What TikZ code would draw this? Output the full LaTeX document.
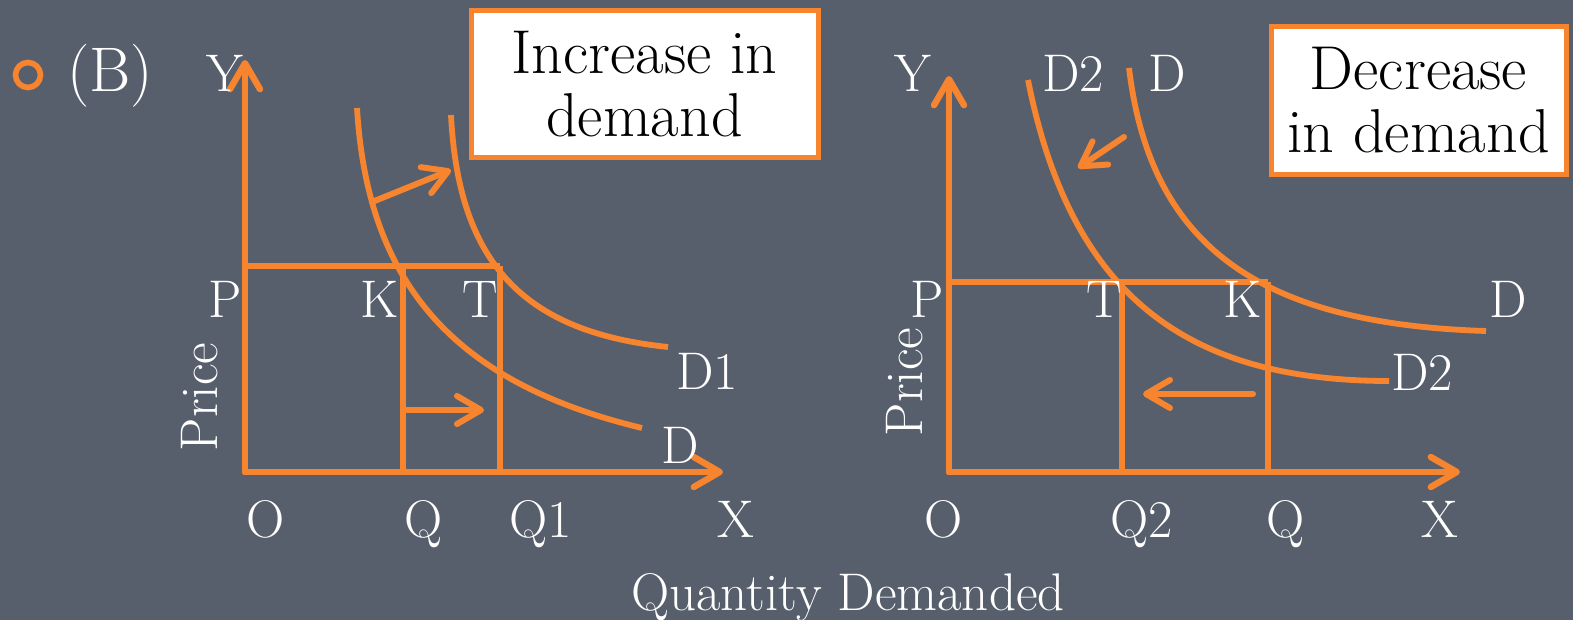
\documentclass[tikz,border=0pt]{standalone}
\usetikzlibrary{arrows.meta}
\definecolor{bg}{RGB}{88,95,108}
\definecolor{org}{RGB}{247,132,47}
\tikzset{
  lbl/.style={text=white,font=\fontsize{26.5}{30}\selectfont,anchor=base,inner sep=0pt},
  axisline/.style={draw=org,line width=3.2pt,line cap=round,-{Straight Barb[length=13pt,width=15pt,round]}},
  moveline/.style={draw=org,line width=3pt,line cap=round,-{Straight Barb[length=12pt,width=14pt,round]}},
  guide/.style={draw=org,line width=3.2pt},
  curve/.style={draw=org,line width=2.9pt},
  titlebox/.style={draw=org,line width=2.5pt,fill=white,inner sep=0pt,align=center,
    font=\fontsize{31}{31.5}\selectfont,text=black}
}
\begin{document}
\begin{tikzpicture}[x=0.5pt,y=-0.5pt]
\useasboundingbox (0,0) rectangle (1573,620);
\fill[bg] (0,0) rectangle (1573,620);

% bullet and (B)
\node[circle,draw=org,line width=2.8pt,minimum size=12.5pt,inner sep=0pt] (bullet) at (28,75) {};
\node[lbl,font=\fontsize{31.5}{34}\selectfont] (B) at (110,92) {(B)};

% ---------- left chart ----------
\coordinate (O1) at (245,472);
\coordinate (Y1) at (245,60);
\coordinate (X1) at (723,472);
\coordinate (P1) at (245,266);
\coordinate (K1) at (403,266);
\coordinate (T1) at (500,266);
\coordinate (Q1b) at (403,472);
\coordinate (Q1c) at (500,472);
\draw[axisline] (O1) -- (Y1);
\draw[axisline] (O1) -- (X1);
\draw[guide] (P1) -- (T1);
\draw[guide] (K1) -- (Q1b);
\draw[guide] (T1) -- (Q1c);

% demand curves
\coordinate (Ds) at (357,108);
\coordinate (De) at (642,428);
\coordinate (D1s) at (451,115);
\coordinate (D1e) at (668,347);
\draw[curve] (Ds) .. controls (367.5,284) and (454.5,383) .. (De);
\draw[curve] (D1s) .. controls (458.4,263) and (523.5,332) .. (D1e);

\coordinate (a1s) at (372,202);
\coordinate (a1e) at (451,170);
\coordinate (a2s) at (405,410);
\coordinate (a2e) at (484,410);
\draw[moveline] (a1s) -- (a1e);
\draw[moveline] (a2s) -- (a2e);

\node[lbl] (lY) at (225,92) {Y};
\node[lbl] (lP) at (225,317) {P};
\node[lbl] (lK) at (380,317) {K};
\node[lbl] (lT) at (480,317) {T};
\node[lbl] (lO) at (266,537) {O};
\node[lbl] (lQ) at (424,537) {Q};
\node[lbl] (lQ1) at (541,537) {Q1};
\node[lbl] (lX) at (736,537) {X};
\node[lbl] (lD1) at (707,389) {D1};
\node[lbl] (lD) at (680,463) {D};
\node[lbl,rotate=90] (lPrice) at (217,397) {Price};

\node[titlebox,minimum width=173.5pt,minimum height=73.5pt] (boxinc) at (644.5,84) {Increase in\\demand};

% ---------- right chart ----------
\coordinate (O2) at (949,472);
\coordinate (Y2) at (949,76);
\coordinate (X2) at (1460,472);
\coordinate (P2) at (949,282);
\coordinate (T2) at (1122,282);
\coordinate (K2) at (1268,282);
\coordinate (Q2b) at (1122,472);
\coordinate (Q2c) at (1268,472);
\draw[axisline] (O2) -- (Y2);
\draw[axisline] (O2) -- (X2);
\draw[guide] (P2) -- (K2);
\draw[guide] (T2) -- (Q2b);
\draw[guide] (K2) -- (Q2c);

\coordinate (E2s) at (1028,80);
\coordinate (E2e) at (1389,381);
\coordinate (Es) at (1129,68);
\coordinate (Ee) at (1486,331);
\draw[curve] (E2s) .. controls (1070,291) and (1181.6,381) .. (E2e);
\draw[curve] (Es) .. controls (1150.3,245) and (1257.8,324) .. (Ee);

\coordinate (b1s) at (1124,137);
\coordinate (b1e) at (1078,168);
\coordinate (b2s) at (1253,394);
\coordinate (b2e) at (1143,394);
\draw[moveline] (b1s) -- (b1e);
\draw[moveline] (b2s) -- (b2e);

\node[lbl] (rY) at (913,92) {Y};
\node[lbl] (rD2t) at (1073,92) {D2};
\node[lbl] (rDt) at (1167,92) {D};
\node[lbl] (rP) at (927,317) {P};
\node[lbl] (rT) at (1104,317) {T};
\node[lbl] (rK) at (1243,317) {K};
\node[lbl] (rD) at (1508,317) {D};
\node[lbl] (rD2) at (1422,390) {D2};
\node[lbl] (rO) at (944,537) {O};
\node[lbl] (rQ2) at (1142,537) {Q2};
\node[lbl] (rQ) at (1286,537) {Q};
\node[lbl] (rX) at (1440,537) {X};
\node[lbl,rotate=90] (rPrice) at (922,382) {Price};

\node[titlebox,minimum width=147.5pt,minimum height=74pt] (boxdec) at (1418.5,100.5) {Decrease\\in demand};

\node[lbl] (qd) at (848,610) {Quantity Demanded};
\end{tikzpicture}
\end{document}
